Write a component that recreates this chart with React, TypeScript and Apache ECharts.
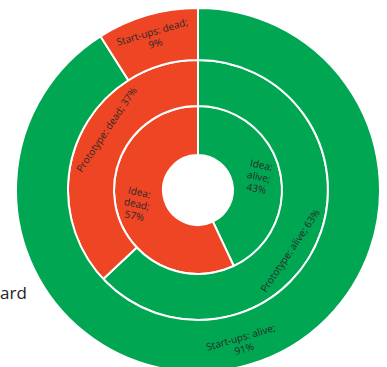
import { useEffect, useRef } from 'react';
import * as echarts from 'echarts';

// Survival shares per stage (percent)
const stages = ['Idea', 'Prototype', 'Start-ups'];
const aliveShare = [43, 63, 91];
const deadShare = [57, 37, 9];
const statuses = ['alive', 'dead'];

const GREEN = '#00A651';
const RED = '#EE4524';
const TEXT = '#2a2a2a';
const FONT = '"Open Sans", "Noto Sans", sans-serif';

const CX = 198;
const CY = 190;
const RINGS: [number, number][] = [
  [35, 84],
  [84, 130],
  [130, 182],
];

function ringData(i: number) {
  return statuses.map((status) => ({
    name: `${stages[i]}: ${status}`,
    value: status === 'alive' ? aliveShare[i] : deadShare[i],
    stage: stages[i],
    status,
    itemStyle: { color: status === 'alive' ? GREEN : RED },
  }));
}

// Moves the middle ring's labels a little clockwise along the ring
const LABEL_SHIFT = (10 * Math.PI) / 180;
function shiftAlongRing(p: any) {
  const r = p.labelRect;
  const lx = r.x + r.width / 2;
  const ly = r.y + r.height / 2;
  const d = Math.hypot(lx - CX, ly - CY);
  const a = Math.atan2(ly - CY, lx - CX) + LABEL_SHIFT;
  return { x: CX + d * Math.cos(a), y: CY + d * Math.sin(a) };
}

export default function App() {
  const ref = useRef<HTMLDivElement>(null);

  useEffect(() => {
    if (!ref.current) return;
    const chart = echarts.init(ref.current, null, { renderer: 'svg' });

    const baseLabel = {
      show: true,
      position: 'inside',
      color: TEXT,
      fontFamily: FONT,
      fontSize: 10,
      lineHeight: 12,
    };
    const common = {
      type: 'pie',
      center: [CX, CY],
      startAngle: 90,
      clockwise: true,
      silent: true,
      labelLine: { show: false },
      itemStyle: { borderColor: '#ffffff', borderWidth: 2 },
    };

    chart.setOption({
      animation: false,
      backgroundColor: '#ffffff',
      graphic: [
        {
          type: 'text',
          x: 0,
          y: 292,
          style: {
            text: 'ard',
            font: `17px ${FONT}`,
            fill: '#222222',
            verticalAlign: 'middle',
          },
        },
      ],
      series: [
        {
          ...common,
          radius: RINGS[0],
          data: ringData(0),
          label: {
            ...baseLabel,
            rotate: -12,
            formatter: (p: any) => `${p.data.stage}:\n${p.data.status};\n${p.value}%`,
          },
        },
        {
          ...common,
          radius: RINGS[1],
          data: ringData(1),
          label: {
            ...baseLabel,
            rotate: 56,
            formatter: (p: any) => `${p.data.stage}: ${p.data.status}; ${p.value}%`,
          },
          labelLayout: shiftAlongRing,
        },
        {
          ...common,
          radius: RINGS[2],
          data: ringData(2),
          label: {
            ...baseLabel,
            rotate: 'tangential',
            formatter: (p: any) => `${p.data.stage}: ${p.data.status};\n${p.value}%`,
          },
        },
      ],
    });

    return () => chart.dispose();
  }, []);

  return (
    <div
      ref={ref}
      style={{ position: 'fixed', left: 0, top: 0, width: 387, height: 367, background: '#fff' }}
    />
  );
}
